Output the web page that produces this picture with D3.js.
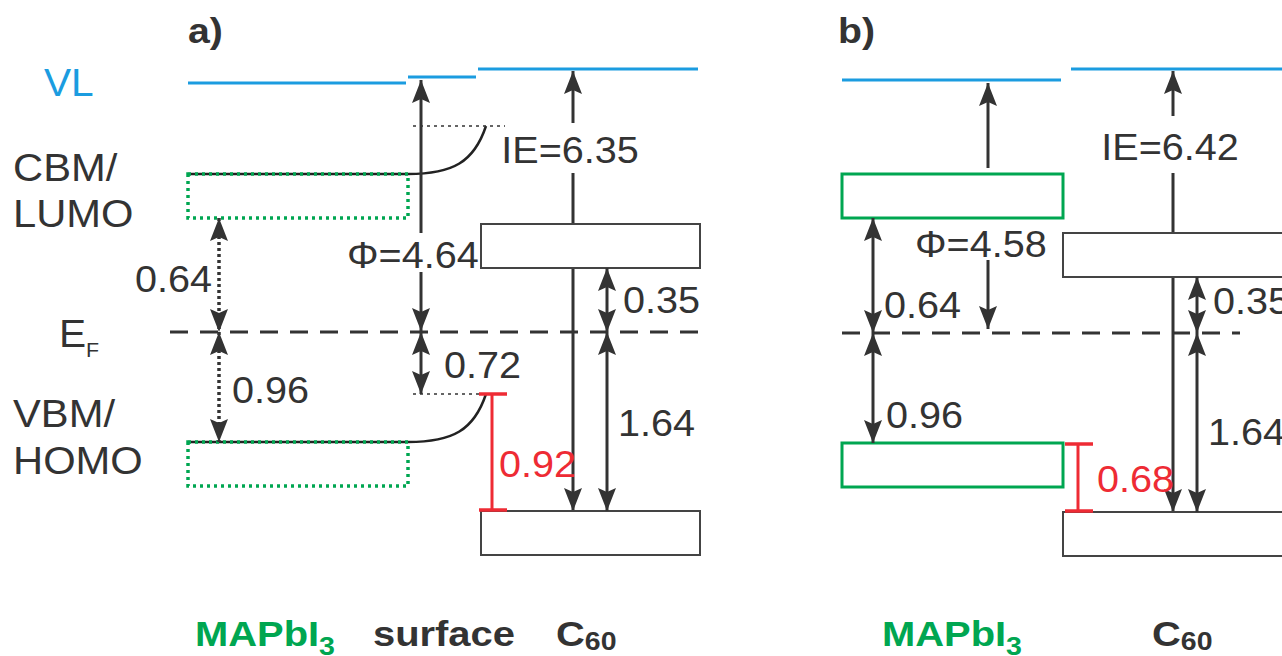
<!DOCTYPE html>
<html>
<head>
<meta charset="utf-8">
<script src="https://cdn.jsdelivr.net/npm/d3@7"></script>
<style>
  body { margin: 0; background: #fff; }
  svg { display: block; }
</style>
</head>
<body>
<script>
// energies in eV, relative to E_F (positive = above E_F)
const panelTitles = ["a)", "b)"];
const workFunctions = [4.64, 4.58];         // Φ
const ionizationEnergies = [6.35, 6.42];    // IE of C60
const cbmAboveEF = [0.64, 0.64];
const vbmBelowEF = [0.96, 0.96];
const lumoAboveEF = [0.35, 0.35];
const homoBelowEF = [1.64, 1.64];
const surfaceVbmBelowEF = [0.72, null];     // only panel a has a surface layer
const holeBarriers = [0.92, 0.68];          // red bars
const bulkVacuumLevels = [4.60, 4.58];      // MAPbI3 VL (a: estimated, not labelled)
const levelLabels = ["VL", "CBM/", "LUMO", "E", "VBM/", "HOMO"];
const materialLabels = [["MAPbI", "3"], ["surface", ""], ["C", "60"]];

const W = 1282, H = 656;
const ink = "#333", blue = "#1b9ce0", green = "#00a651", red = "#ee2b34";
const boxH = 44;

const svg = d3.select("body").append("svg")
  .attr("width", W).attr("height", H)
  .attr("font-family", "'Liberation Sans', Arial, sans-serif");

// arrow head
const defs = svg.append("defs");
defs.append("marker")
  .attr("id", "head")
  .attr("markerUnits", "userSpaceOnUse")
  .attr("viewBox", "0 0 23 18")
  .attr("refX", 23).attr("refY", 9)
  .attr("markerWidth", 23).attr("markerHeight", 18)
  .attr("orient", "auto-start-reverse")
  .append("path")
  .attr("d", "M0,0 L23,9 L0,18 L4,9 Z")
  .attr("fill", ink);

function txt(g, x, y, s, o) {
  o = o || {};
  const t = g.append("text")
    .attr("transform", "translate(" + x + "," + y + ") scale(" + (o.sx || 1.07) + ",1)")
    .attr("font-size", o.size || 37)
    .attr("font-weight", o.bold ? "bold" : null)
    .attr("text-anchor", o.anchor || "start")
    .attr("fill", o.color || ink)
    .text(s);
  if (o.sub) {
    t.append("tspan")
      .attr("font-size", o.subSize || 24)
      .attr("dy", o.subDy || 9)
      .text(o.sub);
  }
  return t;
}

function line(g, x1, y1, x2, y2, o) {
  o = o || {};
  return g.append("line")
    .attr("x1", x1).attr("y1", y1).attr("x2", x2).attr("y2", y2)
    .attr("stroke", o.color || ink)
    .attr("stroke-width", o.width || 3)
    .attr("stroke-dasharray", o.dash || null)
    .attr("marker-start", o.start ? "url(#head)" : null)
    .attr("marker-end", o.end ? "url(#head)" : null);
}

// pixel layout of the two panels
const layout = [
  { title: 188, mapi: [188, 408], surf: [408, 477], c60: [481, 700], vlC60: [478, 698],
    ef: [170, 703], gapX: 219, phiX: 421, ieX: 573, c60X: 607, barX: 492,
    yRange: [511, 442, 394, 332, 268, 218, 83, 77, 69],
    phiGap: [233, 272], ieGap: [123, 173] },
  { title: 838, mapi: [842, 1063], surf: null, c60: [1063, 1310], vlC60: [1071, 1290],
    ef: [842, 1240], gapX: 873, phiX: 988, ieX: 1173, c60X: 1197, barX: 1078,
    yRange: [512, 443, 333, 277, 218, 80, 69],
    phiGap: [168, 260], ieGap: [116, 173] }
];

// left-hand level labels
const lab = svg.append("g");
txt(lab, 44, 96, levelLabels[0], { color: blue, size: 38 });
txt(lab, 13, 181, levelLabels[1], { size: 39 });
txt(lab, 13, 227, levelLabels[2], { size: 39 });
txt(lab, 59, 347, levelLabels[3], { size: 38, sub: "F", subSize: 20, subDy: 10 });
txt(lab, 13, 427, levelLabels[4], { size: 39 });
txt(lab, 13, 474, levelLabels[5], { size: 39 });

layout.forEach(function (L, i) {
  const g = svg.append("g");
  const vlC60 = ionizationEnergies[i] - homoBelowEF[i];
  const hasSurf = surfaceVbmBelowEF[i] != null;
  const domain = hasSurf
    ? [-homoBelowEF[i], -vbmBelowEF[i], -surfaceVbmBelowEF[i], 0, lumoAboveEF[i], cbmAboveEF[i],
       bulkVacuumLevels[i], workFunctions[i], vlC60]
    : [-homoBelowEF[i], -vbmBelowEF[i], 0, lumoAboveEF[i], cbmAboveEF[i], workFunctions[i], vlC60];
  const y = d3.scaleLinear().domain(domain).range(L.yRange);

  const yEF = y(0), yCBM = y(cbmAboveEF[i]), yVBM = y(-vbmBelowEF[i]);
  const yLUMO = y(lumoAboveEF[i]), yHOMO = y(-homoBelowEF[i]);
  const yVLbulk = y(bulkVacuumLevels[i]), yVLc60 = y(vlC60);
  const yPhi = y(workFunctions[i]);

  txt(g, L.title, 43, panelTitles[i], { bold: true, size: 35, sx: 1.12 });

  // vacuum levels
  line(g, L.mapi[0], yVLbulk, L.mapi[1] - 2, yVLbulk, { color: blue, width: 3 });
  if (hasSurf) line(g, L.surf[0], yPhi, L.surf[1] - 1, yPhi, { color: blue, width: 3 });
  line(g, L.vlC60[0], yVLc60, L.vlC60[1], yVLc60, { color: blue, width: 3 });

  // Fermi level
  line(g, L.ef[0], yEF, L.ef[1], yEF, { width: 3, dash: "18,12" });

  // IE arrow of C60 (under the boxes)
  line(g, L.ieX, L.ieGap[0], L.ieX, yVLc60 + 2, { end: true });
  line(g, L.ieX, L.ieGap[1], L.ieX, yHOMO, { end: true });
  txt(g, L.ieX - 3, L.ieGap[0] + (hasSurf ? 40 : 44), "IE=" + ionizationEnergies[i].toFixed(2), { anchor: "middle" });

  // C60 levels
  g.append("rect").attr("x", L.c60[0]).attr("y", yLUMO - boxH)
    .attr("width", L.c60[1] - L.c60[0]).attr("height", boxH)
    .attr("fill", "#fff").attr("stroke", "#444").attr("stroke-width", 2);
  g.append("rect").attr("x", L.c60[0]).attr("y", yHOMO)
    .attr("width", L.c60[1] - L.c60[0]).attr("height", boxH)
    .attr("fill", "#fff").attr("stroke", "#444").attr("stroke-width", 2);

  // C60 offsets to E_F
  line(g, L.c60X, yLUMO, L.c60X, yEF, { start: true, end: true });
  line(g, L.c60X, yEF, L.c60X, yHOMO, { start: true, end: true });
  txt(g, L.c60X + 16, yEF - 19, lumoAboveEF[i].toFixed(2));
  txt(g, L.c60X + 11, yEF + 104 + (hasSurf ? 0 : 8), homoBelowEF[i].toFixed(2));

  // MAPbI3 band edges
  const dotted = hasSurf;
  if (hasSurf) {
    // band bending towards the surface
    const bend = yVBM - y(-surfaceVbmBelowEF[i]);
    const endX = L.barX - 6;
    const cbTop = yCBM - boxH;
    g.append("path")
      .attr("d", "M" + L.mapi[0] + "," + cbTop + " L" + L.mapi[1] + "," + cbTop +
        " C" + (L.mapi[1] + 45) + "," + cbTop + " " + (endX - 12) + "," + (cbTop - 12) + " " + endX + "," + (cbTop - bend))
      .attr("fill", "none").attr("stroke", "#222").attr("stroke-width", 2.5);
    g.append("path")
      .attr("d", "M" + L.mapi[0] + "," + yVBM + " L" + L.mapi[1] + "," + yVBM +
        " C" + (L.mapi[1] + 45) + "," + yVBM + " " + (endX - 12) + "," + (yVBM - 12) + " " + endX + "," + (yVBM - bend))
      .attr("fill", "none").attr("stroke", "#222").attr("stroke-width", 2.5);
    line(g, L.phiX - 8, cbTop - bend, L.c60[0] + 24, cbTop - bend, { width: 1.5, dash: "3,4" });
    line(g, L.phiX - 8, yVBM - bend, endX, yVBM - bend, { width: 1.5, dash: "3,4" });

    // surface Φ and VBM offset
    line(g, L.phiX, L.phiGap[0], L.phiX, yPhi + 3, { end: true });
    line(g, L.phiX, L.phiGap[1], L.phiX, yEF - 1, { end: true });
    txt(g, L.phiX - 74, L.phiGap[1] - 4, "Φ=" + workFunctions[i].toFixed(2));
    line(g, L.phiX, yEF, L.phiX, yVBM - bend, { start: true, end: true });
    txt(g, L.phiX + 23, yEF + 46, surfaceVbmBelowEF[i].toFixed(2));
  } else {
    line(g, L.phiX, L.phiGap[0], L.phiX, yVLbulk + 3, { end: true });
    line(g, L.phiX, L.phiGap[1], L.phiX, yEF - 4, { end: true });
    txt(g, L.phiX - 73, L.phiGap[1] - 3, "Φ=" + workFunctions[i].toFixed(2));
  }

  g.append("rect").attr("x", L.mapi[0]).attr("y", yCBM - boxH)
    .attr("width", L.mapi[1] - L.mapi[0]).attr("height", boxH)
    .attr("fill", "none").attr("stroke", green)
    .attr("stroke-width", dotted ? 3.5 : 3).attr("stroke-dasharray", dotted ? "3,4" : null);
  g.append("rect").attr("x", L.mapi[0]).attr("y", yVBM)
    .attr("width", L.mapi[1] - L.mapi[0]).attr("height", boxH)
    .attr("fill", "none").attr("stroke", green)
    .attr("stroke-width", dotted ? 3.5 : 3).attr("stroke-dasharray", dotted ? "3,4" : null);

  // MAPbI3 offsets to E_F
  const gd = dotted ? "3,3" : null;
  line(g, L.gapX, yCBM, L.gapX, yEF, { start: true, end: true, dash: gd, width: dotted ? 3.5 : 3 });
  line(g, L.gapX, yEF, L.gapX, yVBM, { start: true, end: true, dash: gd, width: dotted ? 3.5 : 3 });
  if (dotted) {
    txt(g, L.gapX - 7, yEF - 40, cbmAboveEF[i].toFixed(2), { anchor: "end" });
    txt(g, L.gapX + 13, yEF + 71, vbmBelowEF[i].toFixed(2));
  } else {
    txt(g, L.gapX + 11, yEF - 15, cbmAboveEF[i].toFixed(2));
    txt(g, L.gapX + 13, yEF + 95, vbmBelowEF[i].toFixed(2));
  }

  // hole barrier (red)
  const yTop = hasSurf ? y(-surfaceVbmBelowEF[i]) : yVBM + 1;
  line(g, L.barX, yTop, L.barX, yHOMO - 1, { color: red, width: 3 });
  line(g, L.barX - 13, yTop, L.barX + 15, yTop, { color: red, width: 3.5 });
  line(g, L.barX - 13, yHOMO - 1, L.barX + 15, yHOMO - 1, { color: red, width: 3.5 });
  txt(g, L.barX + (hasSurf ? 7 : 19), hasSurf ? yHOMO - 34 : yHOMO - 20, holeBarriers[i].toFixed(2), { color: red });

  // material names
  const names = hasSurf ? [[195, 0], [373, 1], [556, 2]] : [[882, 0], [1152, 2]];
  names.forEach(function (n) {
    const m = materialLabels[n[1]];
    txt(g, n[0], 646, m[0], {
      bold: true, size: 35, sx: 1.14, color: n[1] === 0 ? green : ink,
      sub: m[1] || null, subSize: 25, subDy: n[1] === 0 ? 9 : 4
    });
  });
});
</script>
</body>
</html>
